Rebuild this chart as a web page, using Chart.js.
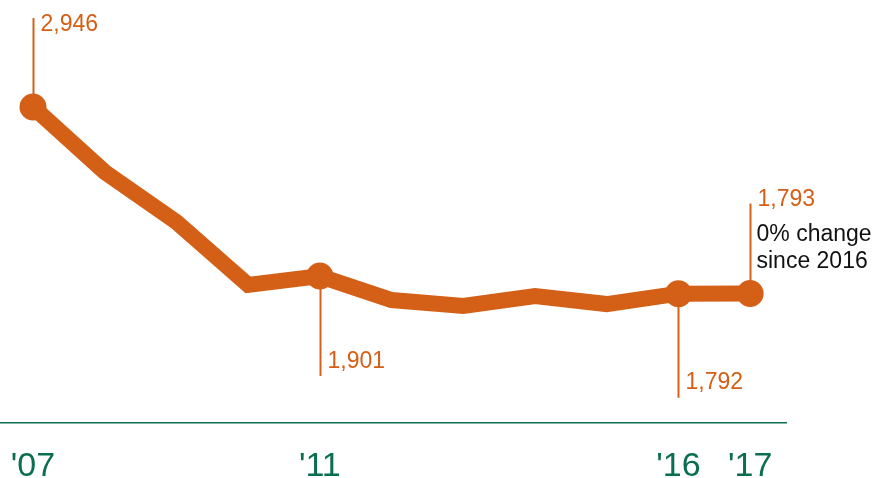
<!DOCTYPE html>
<html>
<head>
<meta charset="utf-8">
<script src="https://cdn.jsdelivr.net/npm/chart.js@4/dist/chart.umd.min.js"></script>
<style>
  html, body { margin: 0; padding: 0; background: #fff; }
  #wrap { width: 877px; height: 478px; }
</style>
</head>
<body>
<div id="wrap"><canvas id="trendChart"></canvas></div>
<script>
const years = [2007, 2008, 2009, 2010, 2011, 2012, 2013, 2014, 2015, 2016, 2017];
const values = [2946, 2544, 2235, 1846, 1901, 1753, 1716, 1778, 1728, 1792, 1793];
const tickYears = [2007, 2011, 2016, 2017];
const tickLabels = ["'07", "'11", "'16", "'17"];

// which points get a dot + callout
const calloutYears = [2007, 2011, 2016, 2017];
const calloutText = ["2,946", "1,901", "1,792", "1,793"];
const noteLines = ["0% change", "since 2016"];

const ORANGE = "#d45f16";
const GREEN = "#0b6e50";

// leader line length (negative = up) and label offset from the line end
const leader = [
  { len: -89, dy: 7 },
  { len: 100, dy: -14 },
  { len: 104, dy: -15 },
  { len: -90, dy: -4 },
];

const calloutPlugin = {
  id: "callouts",
  afterDatasetsDraw(chart) {
    const ctx = chart.ctx;
    const x = chart.scales.x;
    const y = chart.scales.y;
    ctx.save();
    ctx.font = "23px 'Liberation Sans', Arial, sans-serif";
    ctx.textBaseline = "middle";
    ctx.textAlign = "left";
    calloutYears.forEach((yr, i) => {
      const idx = years.indexOf(yr);
      const px = Math.round(x.getPixelForValue(yr)) + 0.5;
      const py = y.getPixelForValue(values[idx]);
      const endY = py + leader[i].len;
      ctx.strokeStyle = ORANGE;
      ctx.lineWidth = 2;
      ctx.beginPath();
      ctx.moveTo(px, py);
      ctx.lineTo(px, endY);
      ctx.stroke();
      ctx.fillStyle = ORANGE;
      ctx.fillText(calloutText[i], px + 7, endY + leader[i].dy);
      if (yr === 2017) {
        ctx.fillStyle = "#111";
        ctx.fillText(noteLines[0], px + 6, endY + 31);
        ctx.fillText(noteLines[1], px + 6, endY + 58);
      }
    });
    ctx.restore();
  },
};

new Chart(document.getElementById("trendChart"), {
  type: "line",
  data: {
    datasets: [
      {
        data: years.map((yr, i) => ({ x: yr, y: values[i] })),
        borderColor: ORANGE,
        backgroundColor: ORANGE,
        borderWidth: 16,
        pointRadius: years.map((yr) => (calloutYears.includes(yr) ? 13.5 : 0)),
        pointBorderWidth: 0,
        pointHoverRadius: 13.5,
        tension: 0,
        clip: false,
      },
    ],
  },
  options: {
    responsive: true,
    maintainAspectRatio: false,
    animation: false,
    events: [],
    layout: { autoPadding: false, padding: { left: 0, right: 91, top: 0, bottom: 0 } },
    plugins: { legend: { display: false }, tooltip: { enabled: false } },
    scales: {
      x: {
        type: "linear",
        min: 2006.54,
        max: 2017.5,
        grid: { display: false, drawTicks: false },
        border: { display: true, color: GREEN, width: 1.5 },
        afterBuildTicks: (scale) => {
          scale.ticks = tickYears.map((v) => ({ value: v }));
        },
        afterFit: (scale) => {
          scale.height = 55;
          scale.paddingLeft = 0;
          scale.paddingRight = 0;
        },
        ticks: {
          autoSkip: false,
          maxRotation: 0,
          padding: 23,
          color: GREEN,
          font: { family: "'Liberation Sans', Arial", size: 34 },
          callback: (v) => tickLabels[tickYears.indexOf(v)] || "",
        },
      },
      y: {
        display: false,
        min: 993,
        max: 3607,
      },
    },
  },
  plugins: [calloutPlugin],
});
</script>
</body>
</html>
